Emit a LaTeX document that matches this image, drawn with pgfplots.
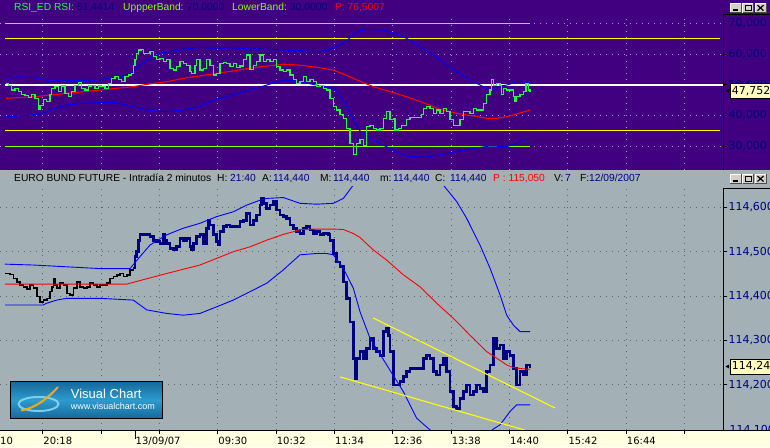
\documentclass[border=0pt]{standalone}
\usepackage{pgfplots}
\pgfplotsset{compat=1.18}
\usepackage{fontspec}
\setmainfont{Liberation Sans}
\newfontfamily\dejavu{DejaVu Sans}
\definecolor{vcpurple}{RGB}{64,0,128}
\definecolor{vcgrey}{RGB}{163,176,181}
\definecolor{vcstrip}{RGB}{255,255,225}
\definecolor{navy}{RGB}{0,0,128}
\definecolor{rsig}{RGB}{32,255,64}
\definecolor{limeg}{RGB}{140,255,0}
\definecolor{ylw}{RGB}{255,255,0}
\definecolor{gridtop}{RGB}{170,150,200}
\definecolor{gridbot}{RGB}{95,100,105}
\definecolor{lblbox}{RGB}{255,255,192}
\definecolor{btn}{RGB}{212,208,200}
\definecolor{logoA}{RGB}{22,105,155}
\definecolor{logoB}{RGB}{45,155,205}
\newcommand\winbtns[1]{%
  \foreach \bx in {730,742.5,755}{%
    \fill[btn] (\bx,#1) rectangle ++(11,9.5);
    \draw[white] (\bx,#1) -- ++(0,9.5) -- ++(11,0);
    \draw[black!70] (\bx+11,#1+9.5) -- ++(0,-9.5) -- ++(-11,0);}
  \draw[black, line width=1.5pt] (733,#1+2.5) -- ++(4.5,0);
  \draw[black, line width=0.8pt] (745,#1+2) rectangle ++(6,5.5);
  \draw[black, line width=1.5pt] (745,#1+7) -- ++(6,0);
  \draw[black, line width=1.2pt] (757.5,#1+2) -- ++(6,5.5) (757.5,#1+7.5) -- ++(6,-5.5);
}
\pgfplotsset{vcbase/.style={
  scale only axis, xmin=0, xmax=723.3, width=723.3pt,
  axis line style={draw=none},
  tick align=outside, major tick length=4pt,
  ytick pos=right, yticklabel pos=right,
  grid=major,
  /pgf/number format/assume math mode=true,
  yticklabel style={font=\dejavu\fontsize{11}{13}\selectfont, text=navy, inner sep=1pt,
    /pgf/number format/fixed, /pgf/number format/fixed zerofill,
    /pgf/number format/precision=3, /pgf/number format/use comma},
  ytick style={black, line width=0.8pt},
  xtick={42.7,101.05,159.4,217.75,276.1,334.45,392.8,451.15,509.5,567.85,626.2,684.55},
}}
\begin{document}
\begin{tikzpicture}[x=1pt,y=1pt]
\useasboundingbox (0,0) rectangle (770,447);
\clip (0,0) rectangle (770,447);
\fill[vcpurple] (0,277) rectangle (770,447);
\fill[vcgrey] (0,17) rectangle (770,277);
\fill[vcstrip] (0,0) rectangle (770,17);

% ---------------- RSI panel ----------------
\begin{axis}[vcbase, at={(0pt,277pt)}, anchor=south west, height=155pt,
  ymin=22.29, ymax=72.70,
  ytick={30,40,50,60,70},
  xticklabels={}, xtick style={draw=none},
  grid style={gridtop, line width=0.9pt, dash pattern=on 1pt off 5pt},
]
\addplot[white, line width=1.5pt] coordinates {(5,50)(723.3,50)};
\addplot[ylw, line width=1.1pt] coordinates {(5,65)(720,65)};
\addplot[ylw, line width=1.1pt] coordinates {(5,35)(720,35)};
\addplot[limeg, line width=1.2pt] coordinates {(5,70)(530,70)};
\addplot[limeg, line width=1.2pt] coordinates {(5,30)(530,30)};
% RSI moving average
\addplot[red, line width=1.1pt] coordinates {(6,45.6)(33.3,46.1)(66.7,47.2)(100,48.3)(133.3,49.4)(150,50.3)(166.7,51.0)(183.3,52.1)(200,52.9)(216.7,53.7)(233.3,54.5)(250,55.4)(266.7,56.1)(283.3,56.7)(300,56.4)(316.7,55.7)(333.3,54.8)(345,53.3)(356.7,51.6)(373.3,49.4)(390,47.8)(406.7,46.1)(423.3,44.2)(440,42.0)(456.7,40.7)(473.3,39.9)(486.7,39.1)(496.7,39.1)(506.7,39.6)(516.7,40.5)(530,41.8)};
% RSI bands
\addplot[blue, line width=1pt] coordinates {(6,52.1)(16.7,52.6)(33.3,52.4)(50,51.3)(66.7,51.3)(100,51.6)(126.7,53.0)(133.3,54.3)(140,56.4)(150,58.6)(160,60.2)(183.3,61.6)(200,62.1)(216.7,61.9)(233.3,62.0)(250,61.7)(266.7,61.6)(283.3,61.3)(300,61.1)(316.7,60.8)(326.7,61.1)(333.3,61.9)(343.3,63.5)(353.3,66.2)(360,67.6)(366.7,68.0)(383.3,67.8)(393.3,66.9)(406.7,65.1)(423.3,61.9)(440,58.1)(456.7,54.3)(473.3,51.0)(490,48.3)(500,49.6)(506.7,49.9)(516.7,51.0)(530,50.8)};
\addplot[blue, line width=1pt] coordinates {(6,39.6)(33.3,40.2)(43.3,40.7)(50,41.8)(66.7,43.4)(83.3,44.0)(100,44.2)(116.7,44.2)(133.3,42.9)(150,41.6)(166.7,41.3)(183.3,41.8)(200,42.9)(210,44.5)(216.7,45.3)(233.3,46.7)(250,48.3)(266.7,49.9)(276.7,51.0)(286.7,51.6)(293.3,51.3)(300,51.0)(316.7,49.9)(326.7,49.4)(333.3,48.9)(343.3,45.1)(350,40.7)(360,35.0)(370,32.6)(383.3,30.4)(396.7,28.3)(406.7,26.8)(423.3,26.4)(440,27.2)(456.7,28.3)(473.3,29.3)(490,30.1)(506.7,29.9)(516.7,30.9)(523.3,32.0)(530,32.3)};
% RSI
\addplot[rsig, line width=1.1pt, const plot] coordinates {(6,50.5)(8.3,49.9)(11.7,48.3)(15,48.9)(18.3,47.8)(21.7,46.7)(25,46.4)(28.3,45.9)(31.7,46.7)(35,45.6)(38.3,42.0)(40,43.4)(43.3,45.1)(46.7,44.5)(50,46.7)(51.7,48.9)(55,49.4)(58.3,47.8)(61.7,49.6)(65,47.2)(68.3,46.1)(71.7,47.8)(75,49.9)(78.3,50.7)(81.7,48.9)(85,48.3)(88.3,49.6)(91.7,49.9)(95,48.9)(98.3,49.6)(101.7,49.4)(105,48.9)(108.3,50.5)(111.7,52.1)(115,52.6)(118.3,51.6)(121.7,51.0)(125,52.6)(128.3,53.2)(131.7,53.7)(133.3,56.4)(135,58.1)(136.7,60.2)(138.3,61.3)(141.7,61.5)(143.3,60.2)(146.7,60.2)(150,60.8)(153.3,59.2)(156.7,58.1)(160,58.6)(163.3,57.5)(166.7,58.1)(170,55.4)(173.3,54.8)(176.7,55.9)(180,57.5)(183.3,57.0)(186.7,56.4)(190,54.3)(191.7,53.7)(195,56.4)(196.7,58.1)(200,54.8)(203.3,55.4)(206.7,58.1)(210,56.4)(213.3,53.2)(216.7,53.7)(220,57.0)(223.3,57.2)(226.7,57.0)(230,55.9)(233.3,57.0)(236.7,55.7)(240,56.1)(243.3,58.1)(246.7,59.7)(250,55.0)(253.3,56.4)(256.7,57.5)(260,59.7)(263.3,57.5)(266.7,58.1)(270,57.5)(273.3,58.1)(276.7,55.9)(280,54.8)(283.3,54.3)(286.7,54.8)(290,53.2)(293.3,51.6)(296.7,50.5)(300,51.0)(303.3,52.6)(306.7,51.0)(310,51.6)(313.3,51.0)(316.7,49.4)(320,49.9)(323.3,48.9)(326.7,48.3)(330,45.6)(333.3,42.9)(336.7,41.8)(340,40.2)(343.3,39.1)(346.7,35.8)(350,31.0)(353.3,27.2)(356.7,31.0)(360,32.1)(363.3,30.4)(366.7,36.4)(370,36.9)(373.3,35.8)(376.7,35.3)(380,35.8)(383.3,39.1)(386.7,41.3)(390,38.6)(393.3,39.1)(395,35.3)(398.3,35.8)(401.7,36.9)(406.7,38.6)(410,39.4)(416.7,39.4)(421.7,40.2)(423.3,42.3)(426.7,42.9)(430,42.3)(433.3,40.7)(436.7,41.8)(440,40.7)(443.3,42.3)(446.7,41.3)(450,38.6)(453.3,36.9)(456.7,36.9)(460,38.6)(463.3,41.3)(466.7,41.3)(470,40.7)(473.3,42.3)(476.7,41.8)(481.7,41.8)(483.3,44.0)(486.7,46.7)(490,48.3)(491.7,51.6)(493.3,49.9)(496.7,50.5)(500,49.9)(501.7,46.7)(503.3,48.9)(506.7,48.3)(510,48.3)(513.3,46.1)(515,44.5)(516.7,46.1)(520,46.7)(523.3,47.8)(526,50.5)(528.3,48.3)(530,47.8)};
\end{axis}

% ---------------- price panel ----------------
\begin{axis}[vcbase, at={(0pt,17pt)}, anchor=south west, height=244pt,
  ymin=114.0984, ymax=114.648,
  ytick={114.2,114.3,114.4,114.5,114.6},
  xtick pos=left, xtick style={black, line width=0.8pt},
  xticklabels={20:18,,,09:30,10:32,11:34,12:36,13:38,14:40,15:42,16:44,},
  extra x ticks={135}, extra x tick labels={13/09/07}, extra x tick style={grid=none},
  xticklabel style={font=\dejavu\fontsize{10}{12}\selectfont, text=black, anchor=north west, inner sep=0pt, xshift=0.5pt, yshift=-3pt},
  grid style={gridbot, line width=0.9pt, dash pattern=on 1pt off 5pt},
]
% price (close), previous session
\addplot[black, line width=1.6pt, const plot] coordinates {(5,114.451)(10,114.449)(13.3,114.440)(16.7,114.432)(20,114.425)(23.3,114.421)(26.7,114.416)(30,114.425)(33.3,114.418)(36.7,114.399)(40,114.387)(43.3,114.391)(46.7,114.395)(50,114.410)(51.7,114.421)(53.3,114.440)(55,114.425)(56.7,114.418)(60,114.429)(63.3,114.425)(66.7,114.406)(70,114.402)(73.3,114.418)(76.7,114.432)(80,114.421)(83.3,114.418)(86.7,114.421)(90,114.429)(93.3,114.425)(96.7,114.421)(100,114.425)(103.3,114.425)(106.7,114.429)(110,114.440)(113.3,114.444)(116.7,114.448)(120,114.451)(123.3,114.444)(126.7,114.448)(130,114.459)(133.3,114.463)};
% price (close), current session
\addplot[navy, line width=2.7pt, const plot] coordinates {(133.3,114.463)(135,114.489)(136.7,114.500)(138.3,114.526)(140,114.538)(143.3,114.538)(146.7,114.538)(150,114.534)(153.3,114.526)(156.7,114.523)(160,114.519)(163.3,114.538)(165,114.526)(166.7,114.519)(170,114.508)(173.3,114.504)(176.7,114.511)(180,114.530)(183.3,114.526)(186.7,114.530)(190,114.511)(191.7,114.504)(193.3,114.519)(196.7,114.534)(200,114.538)(203.3,114.519)(206.7,114.553)(208.3,114.571)(210,114.560)(213.3,114.538)(216.7,114.523)(218.3,114.515)(220,114.545)(223.3,114.556)(226.7,114.560)(230,114.556)(233.3,114.556)(236.7,114.556)(240,114.568)(243.3,114.571)(246.7,114.586)(250,114.560)(253.3,114.571)(256.7,114.583)(260,114.605)(261.7,114.620)(263.3,114.609)(266.7,114.598)(270,114.605)(273.3,114.613)(276.7,114.594)(280,114.583)(283.3,114.579)(286.7,114.575)(290,114.560)(293.3,114.553)(296.7,114.545)(300,114.541)(303.3,114.553)(306.7,114.556)(310,114.549)(313.3,114.541)(316.7,114.545)(320,114.538)(323.3,114.541)(326.7,114.541)(328.3,114.538)(330,114.526)(333.3,114.496)(336.7,114.477)(340,114.466)(343.3,114.432)(346.7,114.395)(350,114.342)(353.3,114.260)(355,114.215)(356.7,114.260)(360,114.275)(363.3,114.260)(366.7,114.282)(370,114.305)(373.3,114.282)(376.7,114.275)(380,114.267)(383.3,114.320)(386.7,114.327)(388.3,114.312)(390,114.275)(393.3,114.200)(396.7,114.200)(400,114.207)(403.3,114.219)(406.7,114.230)(410,114.237)(413.3,114.237)(416.7,114.237)(420,114.237)(423.3,114.260)(426.7,114.267)(430,114.260)(433.3,114.230)(436.7,114.222)(440,114.245)(443.3,114.260)(446.7,114.230)(450,114.185)(453.3,114.151)(456.7,114.147)(460,114.170)(463.3,114.185)(466.7,114.200)(470,114.177)(473.3,114.185)(476.7,114.200)(480,114.192)(483.3,114.185)(486.7,114.230)(490,114.245)(493.3,114.305)(496.7,114.282)(500,114.290)(503.3,114.260)(506.7,114.275)(510,114.267)(513.3,114.237)(516.7,114.200)(520,114.230)(523.3,114.222)(526.7,114.245)(530,114.237)};
% Bollinger upper
\addplot[blue, line width=0.9pt] coordinates {(5,114.472)(33.3,114.470)(66.7,114.466)(100,114.462)(130,114.462)(140,114.489)(150,114.515)(166.7,114.538)(183.3,114.553)(200,114.564)(216.7,114.579)(233.3,114.590)(246.7,114.605)(260,114.616)(266.7,114.620)(283.3,114.622)(300,114.609)(316.7,114.607)(333.3,114.609)(343.3,114.620)(353.3,114.650)(365,114.675)(380,114.690)(400,114.695)(420,114.685)(435,114.665)(443.3,114.650)(456.7,114.613)(466.7,114.575)(480,114.515)(490,114.463)(500,114.403)(506.7,114.357)(513.3,114.335)(520,114.320)(530,114.320)};
% Bollinger middle
\addplot[red, line width=0.9pt] coordinates {(5,114.427)(126.7,114.427)(133.3,114.431)(166.7,114.451)(200,114.470)(216.7,114.485)(233.3,114.500)(250,114.511)(266.7,114.526)(283.3,114.539)(293.3,114.545)(300,114.550)(316.7,114.551)(333.3,114.551)(343.3,114.550)(353.3,114.541)(360,114.532)(373.3,114.504)(386.7,114.481)(403.3,114.448)(420,114.421)(436.7,114.384)(453.3,114.350)(470,114.312)(486.7,114.275)(496.7,114.260)(506.7,114.245)(513.3,114.239)(520,114.237)(530,114.235)};
% Bollinger lower
\addplot[blue, line width=0.9pt] coordinates {(5,114.380)(43.3,114.380)(46.7,114.384)(56.7,114.391)(66.7,114.395)(100,114.395)(133.3,114.391)(146.7,114.369)(166.7,114.361)(183.3,114.357)(200,114.361)(216.7,114.376)(233.3,114.391)(250,114.410)(266.7,114.429)(283.3,114.459)(300,114.493)(316.7,114.496)(326.7,114.496)(333.3,114.493)(343.3,114.463)(353.3,114.418)(360,114.365)(370,114.305)(386.7,114.245)(403.3,114.185)(416.7,114.125)(426.7,114.105)(440,114.080)(460,114.065)(480,114.075)(493,114.100)(500,114.110)(510,114.140)(516.7,114.155)(530,114.155)};
% trend channel
\addplot[ylw, line width=1.1pt] coordinates {(373,114.351)(555,114.148)};
\addplot[ylw, line width=1.1pt] coordinates {(340,114.218)(525,114.098)};
\end{axis}

% panel frames on the right
\draw[black, line width=1pt] (723.3,277) -- (723.3,432) -- (770,432);
\draw[black, line width=1pt] (723.3,17) -- (723.3,258) -- (770,258);
\draw[black, line width=1pt] (0,17) -- (770,17);
\draw[black, line width=0.8pt] (135,17) -- (135,8.3);
\begin{scope}
\clip (723.3,17.5) rectangle (770,30);
\node[anchor=west, text=navy, font=\dejavu\fontsize{11}{13}\selectfont, inner sep=1pt] at (728.3,17) {114,100};
\end{scope}
\node[anchor=north west, font=\dejavu\fontsize{10}{12}\selectfont, inner sep=0pt] at (0,10) {10};

% last value boxes
\node[fill=lblbox, draw=black, line width=0.7pt, anchor=west, inner sep=1.5pt, minimum height=15pt, text width=44pt, font=\dejavu\fontsize{11}{13}\selectfont] at (730,356.2) {47,752};
\fill[black] (729,358.2) -- (725.5,356.2) -- (729,354.2) -- cycle;
\node[fill=lblbox, draw=black, line width=0.7pt, anchor=west, inner sep=1.5pt, minimum height=15pt, text width=44pt, font=\dejavu\fontsize{11}{13}\selectfont] at (730,80.5) {114,24};
\fill[black] (729,82.5) -- (725.5,80.5) -- (729,78.5) -- cycle;

% titles
\begin{scope}[every node/.style={anchor=base west, inner sep=0pt, font=\fontsize{10.25}{12}\selectfont}]
\node[text=rsig] at (14,436.3) {RSI\_ED RSI:};
\node[text=navy] at (77,436.3) {51,4414};
\node[text=limeg] at (123,436.3) {UppperBand:};
\node[text=navy] at (187,436.3) {70,0000};
\node[text=limeg] at (232,436.3) {LowerBand:};
\node[text=navy] at (290,436.3) {30,0000};
\node[text=red] at (335,436.3) {P: 76,5007};
\node[text=black] at (14,265.3) {EURO BUND FUTURE - Intradía 2 minutos};
\node[text=black] at (217,265.3) {H:};
\node[text=navy] at (230,265.3) {21:40};
\node[text=black] at (262,265.3) {A:};
\node[text=navy] at (273,265.3) {114,440};
\node[text=black] at (320,265.3) {M:};
\node[text=navy] at (333,265.3) {114,440};
\node[text=black] at (380,265.3) {m:};
\node[text=navy] at (393,265.3) {114,440};
\node[text=black] at (435,265.3) {C:};
\node[text=navy] at (450,265.3) {114,440};
\node[text=red] at (493,265.3) {P : 115,050};
\node[text=black] at (554,265.3) {V:};
\node[text=navy] at (565,265.3) {7};
\node[text=black] at (580,265.3) {F:};
\node[text=navy] at (589,265.3) {12/09/2007};
\end{scope}

% window buttons
\winbtns{434.3}
\winbtns{263.5}

% logo
\shade[top color=logoA, bottom color=logoA, middle color=logoB] (10,28.7) rectangle (162,65.3);
\draw[black, line width=1pt] (10,28.7) rectangle (162,65.3);
\draw[cyan!45!white, line width=2pt, opacity=0.85] (38.5,43) ellipse (20 and 7);
\draw[orange!70!yellow, line width=2pt] (21,36.5) .. controls (36,39) and (48,49) .. (58,60);
\node[anchor=base west, text=white, inner sep=0pt, font=\fontsize{13}{15}\selectfont] at (70.7,49) {Visual Chart};
\node[anchor=base west, text=white, inner sep=0pt, font=\fontsize{9}{11}\selectfont] at (70.7,37.5) {www.visualchart.com};
\end{tikzpicture}
\end{document}
